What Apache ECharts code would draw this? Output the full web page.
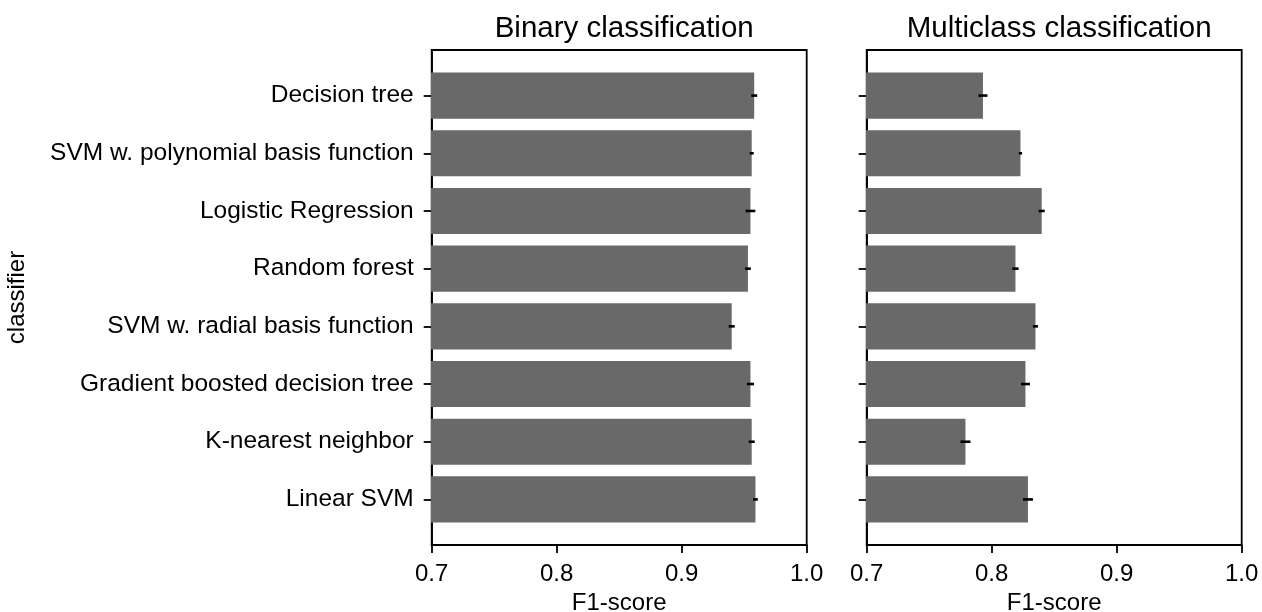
<!DOCTYPE html>
<html>
<head>
<meta charset="utf-8">
<script src="https://cdn.jsdelivr.net/npm/echarts@6/dist/echarts.min.js"></script>
<style>html,body{margin:0;padding:0;background:#fff}#c{width:1262px;height:612px}</style>
</head>
<body>
<div id="c"></div>
<script>
const categories = ['Decision tree','SVM w. polynomial basis function','Logistic Regression','Random forest','SVM w. radial basis function','Gradient boosted decision tree','K-nearest neighbor','Linear SVM'];
const binaryF1 = [0.958, 0.956, 0.955, 0.953, 0.940, 0.955, 0.956, 0.959];
const binaryErr = [0.0024, 0.0016, 0.0039, 0.0023, 0.0024, 0.0028, 0.0024, 0.0019];
const multiF1 = [0.793, 0.823, 0.840, 0.819, 0.835, 0.827, 0.779, 0.829];
const multiErr = [0.0036, 0.0013, 0.0024, 0.0025, 0.0020, 0.0036, 0.0040, 0.0040];
const xTicks = [0.7, 0.8, 0.9, 1.0];
const panelTitles = ['Binary classification', 'Multiclass classification'];

const FONT = 'Liberation Sans, Arial, sans-serif';
const X_MIN = 0.7, X_MAX = 1.0;
const BAR_W = 0.8;
const idx = categories.map((_, i) => i);

function barRender(params, api) {
  const i = api.value(0), v = api.value(1);
  const s = api.coord([0, i]);
  const e = api.coord([v, i]);
  const h = api.size([0, BAR_W])[1];
  return {type: 'rect', shape: {x: s[0], y: e[1] - h / 2, width: e[0] - s[0], height: h},
          style: {fill: '#696969'}};
}
function errRender(params, api) {
  const i = api.value(0), v = api.value(1), er = api.value(2);
  const a = api.coord([v - er, i]);
  const b = api.coord([v + er, i]);
  return {type: 'line', shape: {x1: a[0], y1: a[1], x2: b[0], y2: b[1]},
          style: {stroke: '#000', lineWidth: 2.6}};
}

const grids = [
  {left: 431.7, width: 375, top: 50, height: 495},
  {left: 866.7, width: 375, top: 50, height: 495}
].map(g => Object.assign(g, {show: true, borderColor: '#000', borderWidth: 1.8,
  backgroundColor: 'transparent', containLabel: false, outerBoundsMode: 'none'}));

function xAxis(gi) {
  return {
    type: 'value', gridIndex: gi, min: X_MIN, max: X_MAX, interval: 0.1,
    name: 'F1-score', nameLocation: 'middle', nameGap: 45,
    nameTextStyle: {fontFamily: FONT, fontSize: 24, color: '#000'},
    axisLine: {show: true, onZero: false, lineStyle: {color: '#000', width: 1.8}},
    axisTick: {show: true, length: 8, lineStyle: {color: '#000', width: 1.8}},
    axisLabel: {show: true, margin: 17, fontFamily: FONT, fontSize: 24, color: '#000',
                formatter: v => v.toFixed(1), customValues: xTicks},
    splitLine: {show: false}
  };
}
function yAxis(gi, showLabels) {
  const ax = {
    type: 'value', gridIndex: gi, min: -0.79, max: 7.79, inverse: true,
    axisLine: {show: true, onZero: false, lineStyle: {color: '#000', width: 1.8}},
    axisTick: {show: true, length: 8, customValues: idx, lineStyle: {color: '#000', width: 1.8}},
    axisLabel: {show: showLabels, margin: 18, fontFamily: FONT, fontSize: 24.5, color: '#000',
                customValues: idx, formatter: v => categories[Math.round(v)]},
    splitLine: {show: false}
  };
  if (showLabels) {
    ax.name = 'classifier';
    ax.nameLocation = 'middle';
    ax.nameGap = 402;
    ax.nameTextStyle = {fontFamily: FONT, fontSize: 24, color: '#000'};
  }
  return ax;
}

function barData(vals) { return vals.map((v, i) => [i, v]); }
function errData(vals, errs) { return vals.map((v, i) => [i, v, errs[i]]); }

const option = {
  animation: false,
  backgroundColor: '#fff',
  title: panelTitles.map((t, i) => ({
    text: t, left: (i === 0 ? 619.2 : 1054.2), top: 9, textAlign: 'center',
    textStyle: {fontFamily: FONT, fontSize: 29.5, fontWeight: 'normal', color: '#000'}
  })),
  grid: grids,
  xAxis: [xAxis(0), xAxis(1)],
  yAxis: [yAxis(0, true), yAxis(1, false)],
  series: [
    {type: 'custom', xAxisIndex: 0, yAxisIndex: 0, clip: true, renderItem: barRender,
     encode: {x: 1, y: 0}, data: barData(binaryF1)},
    {type: 'custom', xAxisIndex: 0, yAxisIndex: 0, clip: true, renderItem: errRender,
     encode: {x: 1, y: 0}, data: errData(binaryF1, binaryErr), z: 3},
    {type: 'custom', xAxisIndex: 1, yAxisIndex: 1, clip: true, renderItem: barRender,
     encode: {x: 1, y: 0}, data: barData(multiF1)},
    {type: 'custom', xAxisIndex: 1, yAxisIndex: 1, clip: true, renderItem: errRender,
     encode: {x: 1, y: 0}, data: errData(multiF1, multiErr), z: 3}
  ]
};
const chart = echarts.init(document.getElementById('c'), null, {renderer: 'canvas'});
chart.setOption(option);
</script>
</body>
</html>
